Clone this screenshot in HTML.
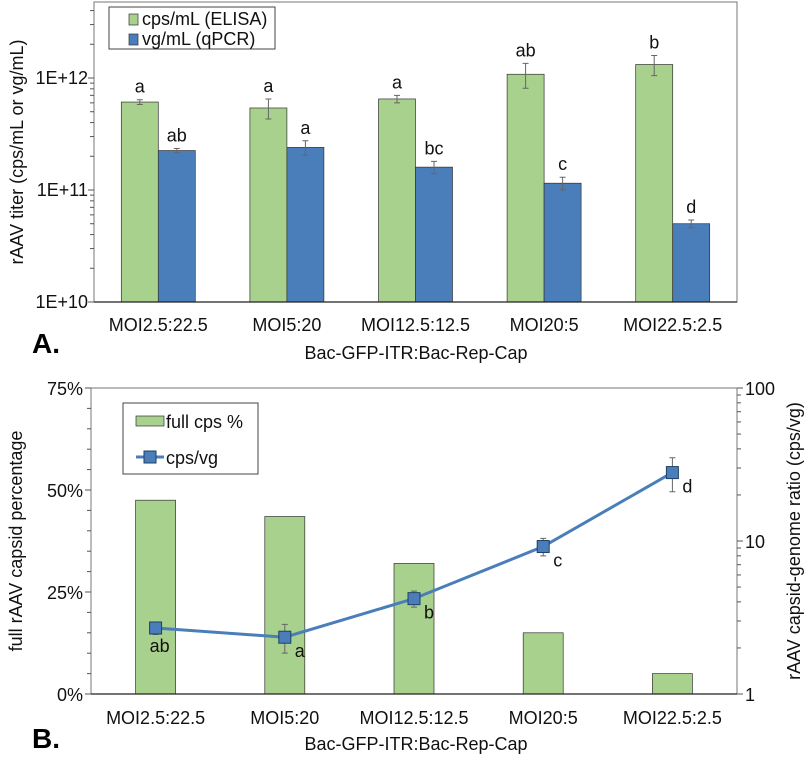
<!DOCTYPE html>
<html><head><meta charset="utf-8"><style>
body{margin:0;background:#fff}
svg{font-family:"Liberation Sans",sans-serif}
</style></head><body>
<svg width="809" height="755">
<g id="A"></g><g id="B"></g>
</svg>
<script>
const cats=["MOI2.5:22.5","MOI5:20","MOI12.5:12.5","MOI20:5","MOI22.5:2.5"];
const elisa=[6.1e11,5.4e11,6.5e11,1.08e12,1.32e12];
const elisaErr=[0.3e11,1.1e11,0.5e11,2.7e11,2.7e11];
const elisaLet=["a","a","a","ab","b"];
const qpcr=[2.25e11,2.4e11,1.6e11,1.15e11,5.0e10];
const qpcrErr=[0.1e11,0.35e11,0.2e11,0.15e11,0.4e10];
const qpcrLet=["ab","a","bc","c","d"];
const fullPct=[47.5,43.5,32,15,5];
const ratio=[2.7,2.35,4.2,9.2,28];
const ratioErr=[0.25,0.5,0.5,1.2,7];
const ratioLet=["ab","a","b","c","d"];
const yTicksA=["1E+10","1E+11","1E+12"];
const yTicksB=["0%","25%","50%","75%"];
const yTicksB2=["1","10","100"];
const NS="http://www.w3.org/2000/svg";
function mk(p,t,a,txt){const e=document.createElementNS(NS,t);for(const k in a)e.setAttribute(k,a[k]);if(txt!=null)e.textContent=txt;p.appendChild(e);return e;}
function tx(p,x,y,s,anchor,size){return mk(p,'text',{x:x,y:y,"text-anchor":anchor||"start","font-size":size||18,fill:"#111"},s);}
const GREEN="#a9d18e",BLUE="#4a7ebb";
// Chart A
const A=document.getElementById('A');
const aL=94,aR=737,aT=2,aB=302,dec=112;
const yA=v=>aB-(Math.log10(v)-10)*dec;
const bandA=(aR-aL)/5, xA=i=>aL+bandA*(i+0.5);
let e;
for(let i=0;i<5;i++){
 const c=xA(i);
 e=mk(A,'rect',{x:c-37,y:yA(elisa[i]),width:37,height:aB-yA(elisa[i]),fill:GREEN,stroke:"#333","stroke-width":0.7});
 
 e=mk(A,'rect',{x:c,y:yA(qpcr[i]),width:37,height:aB-yA(qpcr[i]),fill:BLUE,stroke:"#333","stroke-width":0.7});
 
 [[c-18.5,elisa[i],elisaErr[i],elisaLet[i]],[c+18.5,qpcr[i],qpcrErr[i],qpcrLet[i]]].forEach(([x,v,er,l])=>{
  const y1=yA(v+er),y2=yA(v-er);
  mk(A,'path',{d:`M${x},${y1}V${y2}M${x-3},${y1}H${x+3}M${x-3},${y2}H${x+3}`,stroke:"#666","stroke-width":1,fill:"none"});
  e=tx(A,x,y1-7,l,"middle");
  
 });
 e=tx(A,c,331,cats[i],"middle");
 
}
mk(A,'rect',{x:aL,y:aT,width:aR-aL,height:aB-aT,fill:"none",stroke:"#777","stroke-width":1});
mk(A,'line',{x1:aL,y1:aB,x2:aR,y2:aB,stroke:"#222","stroke-width":1.2});
for(let d=10;d<13;d++)for(let m=1;m<10;m++){const v=m*Math.pow(10,d);const y=yA(v);if(y<aT)break;mk(A,'line',{x1:aL-(m==1?6:4),y1:y,x2:aL,y2:y,stroke:"#555"});}
yTicksA.forEach((t,i)=>{e=tx(A,aL-6,aB-i*dec+6,t,"end");});
e=mk(A,'text',{transform:"translate(23,152) rotate(-90)","text-anchor":"middle","font-size":18,fill:"#111"},"rAAV titer (cps/mL or vg/mL)");
e=tx(A,416,359,"Bac-GFP-ITR:Bac-Rep-Cap","middle");
e=mk(A,'text',{x:32,y:353,"font-size":28,"font-weight":"bold",fill:"#000"},"A.");
const lgA=mk(A,'g',{});
mk(lgA,'rect',{x:109,y:7,width:166,height:42,fill:"#fff",stroke:"#444"});
mk(lgA,'rect',{x:129,y:14,width:9,height:11,fill:GREEN,stroke:"#333","stroke-width":0.7});
tx(lgA,142,25,"cps/mL (ELISA)");
mk(lgA,'rect',{x:129,y:34,width:9,height:11,fill:BLUE,stroke:"#333","stroke-width":0.7});
tx(lgA,142,45,"vg/mL (qPCR)");
// Chart B
const B=document.getElementById('B');
const bL=91,bR=737,bT=388,bB=694;
const yP=p=>bB-p/75*(bB-bT);
const yR=v=>bB-Math.log10(v)/2*(bB-bT);
const bandB=(bR-bL)/5,xB=i=>bL+bandB*(i+0.5);
for(let i=0;i<5;i++){
 const c=xB(i);
 e=mk(B,'rect',{x:c-20,y:yP(fullPct[i]),width:40,height:bB-yP(fullPct[i]),fill:GREEN,stroke:"#333","stroke-width":0.7});
 
 e=tx(B,c,724,cats[i],"middle");
 
}
mk(B,'rect',{x:bL,y:bT,width:bR-bL,height:bB-bT,fill:"none",stroke:"#777"});
mk(B,'line',{x1:bL,y1:bB,x2:bR,y2:bB,stroke:"#222","stroke-width":1.2});
for(let p=0;p<=75;p+=5){const y=yP(p);mk(B,'line',{x1:bL-(p%25==0?6:4),y1:y,x2:bL,y2:y,stroke:"#555"});}
for(let d=0;d<2;d++)for(let m=1;m<=10;m++){const y=yR(m*Math.pow(10,d));mk(B,'line',{x1:bR,y1:y,x2:bR+(m==1||m==10?6:4),y2:y,stroke:"#555"});}
yTicksB.forEach((t,i)=>{e=tx(B,bL-8,yP(i*25)+7,t,"end");});
yTicksB2.forEach((t,i)=>{e=tx(B,bR+8,yR(Math.pow(10,i))+7,t,"start");});
let d="";ratio.forEach((v,i)=>{d+=(i?"L":"M")+xB(i)+","+yR(v);});
e=mk(B,'path',{d:d,stroke:BLUE,"stroke-width":3,fill:"none"});
ratio.forEach((v,i)=>{
 const x=xB(i),y1=yR(v+ratioErr[i]),y2=yR(v-ratioErr[i]);
 mk(B,'path',{d:`M${x},${y1}V${y2}M${x-3},${y1}H${x+3}M${x-3},${y2}H${x+3}`,stroke:"#666",fill:"none"});
 e=mk(B,'rect',{x:x-6,y:yR(v)-6,width:12,height:12,fill:BLUE,stroke:"#1f3f66","stroke-width":1});
 
 const lx=i==0?x+4:x+10, ly=i==0?yR(v)+24:yR(v)+20;
 e=tx(B,lx,ly,ratioLet[i],i==0?"middle":"start");
 
});
e=mk(B,'text',{transform:"translate(22,541) rotate(-90)","text-anchor":"middle","font-size":18,fill:"#111"},"full rAAV capsid percentage");
e=mk(B,'text',{transform:"translate(800,541) rotate(-90)","text-anchor":"middle","font-size":18,fill:"#111"},"rAAV capsid-genome ratio (cps/vg)");
e=tx(B,416,750,"Bac-GFP-ITR:Bac-Rep-Cap","middle");
e=mk(B,'text',{x:32,y:748,"font-size":28,"font-weight":"bold",fill:"#000"},"B.");
const lgB=mk(B,'g',{});
mk(lgB,'rect',{x:123,y:403,width:135,height:71,fill:"#fff",stroke:"#444"});
mk(lgB,'rect',{x:136,y:416,width:28,height:10,fill:GREEN,stroke:"#333","stroke-width":0.7});
tx(lgB,166,428,"full cps %");
mk(lgB,'line',{x1:136,y1:457,x2:164,y2:457,stroke:BLUE,"stroke-width":3});
mk(lgB,'rect',{x:144,y:451,width:12,height:12,fill:BLUE,stroke:"#1f3f66"});
tx(lgB,166,464,"cps/vg");
</script>
</body></html>
